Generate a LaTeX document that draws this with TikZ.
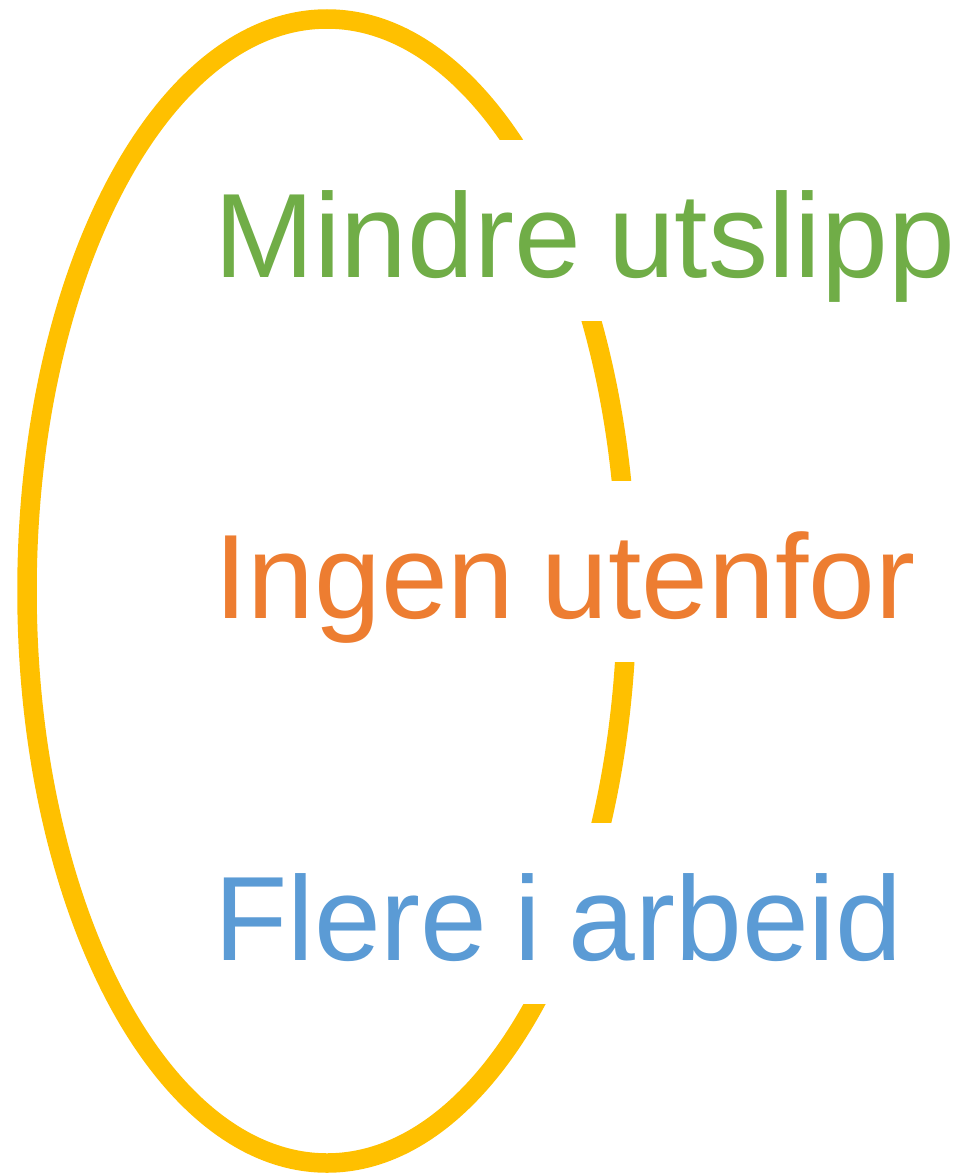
\documentclass[tikz,border=0pt]{standalone}
\usepackage{fontspec}
\setmainfont{Liberation Sans}[WordSpace=0.82]
\definecolor{ringgold}{HTML}{FFC000}
\definecolor{goalgreen}{HTML}{70AD47}
\definecolor{goalorange}{HTML}{ED7D31}
\definecolor{goalblue}{HTML}{5B9BD5}
\begin{document}
\begin{tikzpicture}[x=1pt,y=-1pt]
	\useasboundingbox (0,0) rectangle (974,1175);
	\draw[ringgold,line width=19.5pt] (327,591) ellipse [x radius=300, y radius=572];
	\begin{scope}[every node/.style={font=\fontsize{120}{130}\selectfont}]
		\tikzstyle{goal}=[fill=white,anchor=base west,inner xsep=9pt,inner ysep=0pt,text height=137pt,text depth=44pt];
		\path (205,277) node [goal,text=goalgreen]  (mindre) {Mindre utslipp};
		\path (205,618) node [goal,text=goalorange] (ingen)  {Ingen utenfor};
		\path (205,960) node [goal,text=goalblue]   (flere)  {Flere i arbeid};
	\end{scope}
\end{tikzpicture}
\end{document}
